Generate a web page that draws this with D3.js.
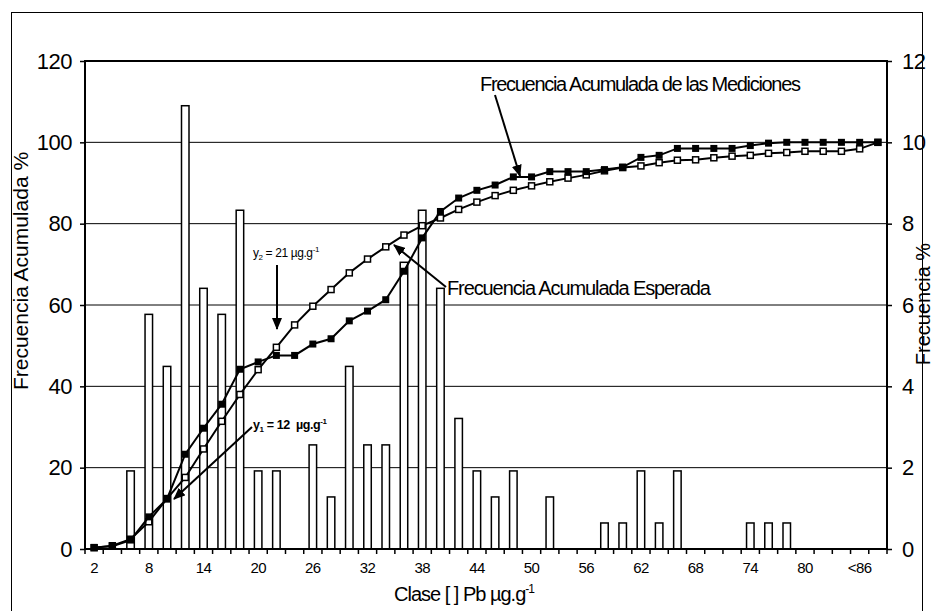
<!DOCTYPE html>
<html>
<head>
<meta charset="utf-8">
<script src="https://cdn.jsdelivr.net/npm/d3@7"></script>
<style>
  body { margin: 0; background: #fff; }
  text { font-family: "Liberation Sans", Arial, sans-serif; fill: #000; }
</style>
</head>
<body>
<svg id="chart" width="934" height="611"></svg>
<script>
// Clases de concentración de Pb (µg/g)
const classes = ["2","4","6","8","10","12","14","16","18","20","22","24","26","28","30","32","34","36","38","40",
  "42","44","46","48","50","52","54","56","58","60","62","64","66","68","70","72","74","76","78","80",
  "82","84","<86",">86"];
const tickClasses = ["2","8","14","20","26","32","38","44","50","56","62","68","74","80","<86"];

// Frecuencia % por clase (eje derecho)
const freqPct = [0, 0, 1.92, 5.77, 4.49, 10.9, 6.41, 5.77, 8.33, 1.92, 1.92, 0, 2.56, 1.28, 4.49, 2.56, 2.56, 7.05,
  8.33, 6.41, 3.21, 1.92, 1.28, 1.92, 0, 1.28, 0, 0, 0.64, 0.64, 1.92, 0.64, 1.92, 0, 0, 0, 0.64, 0.64, 0.64,
  0, 0, 0, 0, 0];

// Frecuencia acumulada de las mediciones (eje izquierdo)
const cumMeasured = [0.4, 0.7, 2.2, 7.9, 12.3, 23.3, 29.7, 35.6, 44.2, 46.0, 47.6, 47.6, 50.4, 51.7, 56.1, 58.5,
  61.3, 68.3, 76.5, 83.0, 86.3, 88.2, 89.5, 91.5, 91.5, 92.8, 92.8, 92.8, 93.3, 93.9, 96.3, 96.8, 98.5, 98.5,
  98.5, 98.5, 99.2, 99.8, 100, 100, 100, 100, 100, 100];

// Frecuencia acumulada esperada (eje izquierdo)
const cumExpected = [0.3, 0.8, 2.4, 6.7, 12.4, 17.6, 24.6, 31.4, 38.0, 44.1, 49.6, 55.1, 59.7, 63.8, 67.9, 71.3,
  74.3, 77.2, 79.5, 81.4, 83.5, 85.3, 86.9, 88.2, 89.3, 90.3, 91.2, 92.0, 93.0, 93.8, 94.2, 95.0, 95.6, 95.7,
  96.2, 96.6, 96.8, 97.3, 97.5, 97.8, 97.8, 97.8, 98.4, 100];

const leftTicks = [0, 20, 40, 60, 80, 100, 120];
const rightTicks = [0, 2, 4, 6, 8, 10, 12];

const svg = d3.select("#chart");
const m = { left: 85, right: 887, top: 61, bottom: 549 };

const x = d3.scaleBand().domain(classes).range([m.left, m.right]).padding(0);
const yL = d3.scaleLinear().domain([0, 120]).range([m.bottom, m.top]);
const yR = d3.scaleLinear().domain([0, 12]).range([m.bottom, m.top]);
const cx = c => x(c) + x.bandwidth() / 2;

// marco exterior
svg.append("rect").attr("x", 11.5).attr("y", 12.5).attr("width", 911).attr("height", 640)
  .attr("fill", "none").attr("stroke", "#000").attr("stroke-width", 1);

// punta de flecha
svg.append("defs").append("marker")
  .attr("id", "arrow").attr("markerUnits", "userSpaceOnUse")
  .attr("markerWidth", 12).attr("markerHeight", 10)
  .attr("viewBox", "0 0 12 10").attr("refX", 11).attr("refY", 5).attr("orient", "auto")
  .append("path").attr("d", "M0,0 L12,5 L0,10 Z").attr("fill", "#000");

// líneas de cuadrícula
svg.append("g").selectAll("line").data(leftTicks.filter(v => v > 0 && v < 120)).join("line")
  .attr("x1", m.left).attr("x2", m.right)
  .attr("y1", d => yL(d)).attr("y2", d => yL(d))
  .attr("stroke", "#000").attr("stroke-width", 1);

// barras de frecuencia
const barW = 7.5;
svg.append("g").selectAll("rect").data(classes.map((c, i) => ({ c, v: freqPct[i] })).filter(d => d.v > 0)).join("rect")
  .attr("x", d => cx(d.c) - barW / 2)
  .attr("y", d => yR(d.v))
  .attr("width", barW)
  .attr("height", d => yR(0) - yR(d.v))
  .attr("fill", "#fff").attr("stroke", "#000").attr("stroke-width", 1.5);

// marco del área de trazado
svg.append("rect").attr("x", m.left).attr("y", m.top)
  .attr("width", m.right - m.left).attr("height", m.bottom - m.top)
  .attr("fill", "none").attr("stroke", "#000").attr("stroke-width", 2);

// eje izquierdo
const axL = svg.append("g").attr("transform", `translate(${m.left},0)`)
  .call(d3.axisLeft(yL).tickValues(leftTicks).tickSize(5).tickPadding(8));
axL.select(".domain").remove();
axL.selectAll("line").attr("stroke-width", 1.5);
axL.selectAll("text").attr("font-size", 22).attr("letter-spacing", -0.5)
  .style("font-family", '"Liberation Sans", Arial, sans-serif');

// eje derecho
const axR = svg.append("g").attr("transform", `translate(${m.right},0)`)
  .call(d3.axisRight(yR).tickValues(rightTicks).tickSize(5).tickPadding(10));
axR.select(".domain").remove();
axR.selectAll("line").attr("stroke-width", 1.5);
axR.selectAll("text").attr("font-size", 22).attr("letter-spacing", -0.5)
  .style("font-family", '"Liberation Sans", Arial, sans-serif');

// eje inferior: marcas en los límites de clase, etiquetas cada tres clases
svg.append("g").selectAll("line").data(classes.map(c => x(c)).concat([m.right])).join("line")
  .attr("x1", d => d).attr("x2", d => d)
  .attr("y1", m.bottom).attr("y2", m.bottom + 5)
  .attr("stroke", "#000").attr("stroke-width", 1.5);
const axB = svg.append("g").attr("transform", `translate(0,${m.bottom})`)
  .call(d3.axisBottom(x).tickValues(tickClasses).tickSize(0).tickPadding(13));
axB.select(".domain").remove();
axB.selectAll("text").attr("font-size", 15).attr("letter-spacing", -0.6)
  .style("font-family", '"Liberation Sans", Arial, sans-serif');

// curvas acumuladas
const line = d3.line().x(d => cx(d.c)).y(d => yL(d.v));
const expected = classes.map((c, i) => ({ c, v: cumExpected[i] }));
const measured = classes.map((c, i) => ({ c, v: cumMeasured[i] }));

svg.append("path").datum(expected).attr("d", line)
  .attr("fill", "none").attr("stroke", "#000").attr("stroke-width", 2);
svg.append("g").selectAll("rect").data(expected).join("rect")
  .attr("x", d => cx(d.c) - 3).attr("y", d => yL(d.v) - 3)
  .attr("width", 6).attr("height", 6)
  .attr("fill", "#fff").attr("stroke", "#000").attr("stroke-width", 1.5);

svg.append("path").datum(measured).attr("d", line)
  .attr("fill", "none").attr("stroke", "#000").attr("stroke-width", 2);
svg.append("g").selectAll("rect").data(measured).join("rect")
  .attr("x", d => cx(d.c) - 3.5).attr("y", d => yL(d.v) - 3.5)
  .attr("width", 7).attr("height", 7)
  .attr("fill", "#000");

// anotaciones
function arrow(x1, y1, x2, y2) {
  svg.append("line").attr("x1", x1).attr("y1", y1).attr("x2", x2).attr("y2", y2)
    .attr("stroke", "#000").attr("stroke-width", 2).attr("marker-end", "url(#arrow)");
}
arrow(495, 95, 520, 176);
arrow(446, 287, 394, 245);
arrow(277, 265, 277, 329);
arrow(252, 427, 174, 499);

svg.append("text").attr("x", 480).attr("y", 91).attr("font-size", 20).attr("letter-spacing", -1.3)
  .text("Frecuencia Acumulada de las Mediciones");
svg.append("text").attr("x", 447).attr("y", 295).attr("font-size", 20).attr("letter-spacing", -1.1)
  .text("Frecuencia Acumulada Esperada");

const t2 = svg.append("text").attr("x", 253).attr("y", 257).attr("font-size", 12).attr("letter-spacing", -0.4);
t2.append("tspan").text("y");
t2.append("tspan").attr("font-size", 8).attr("dy", 3).text("2");
t2.append("tspan").attr("dy", -3).text(" = 21 µg.g");
t2.append("tspan").attr("font-size", 8).attr("dy", -5).text("-1");

const t1 = svg.append("text").attr("x", 253).attr("y", 429).attr("font-size", 12.5)
  .attr("font-weight", "bold").attr("letter-spacing", -0.4);
t1.append("tspan").text("y");
t1.append("tspan").attr("font-size", 8).attr("dy", 3).text("1");
t1.append("tspan").attr("dy", -3).attr("xml:space", "preserve").text(" = 12  µg.g");
t1.append("tspan").attr("font-size", 8).attr("dy", -5).text("-1");

// títulos de ejes
svg.append("text").attr("transform", "translate(28,271) rotate(-90)")
  .attr("text-anchor", "middle").attr("font-size", 21).text("Frecuencia Acumulada %");
svg.append("text").attr("transform", "translate(930,304) rotate(-90)")
  .attr("text-anchor", "middle").attr("font-size", 20).text("Frecuencia %");

const tx = svg.append("text").attr("x", 394).attr("y", 601).attr("font-size", 20).attr("letter-spacing", -1);
tx.append("tspan").text("Clase [ ] Pb µg.g");
tx.append("tspan").attr("font-size", 12).attr("dy", -8).text("-1");
</script>
</body>
</html>
